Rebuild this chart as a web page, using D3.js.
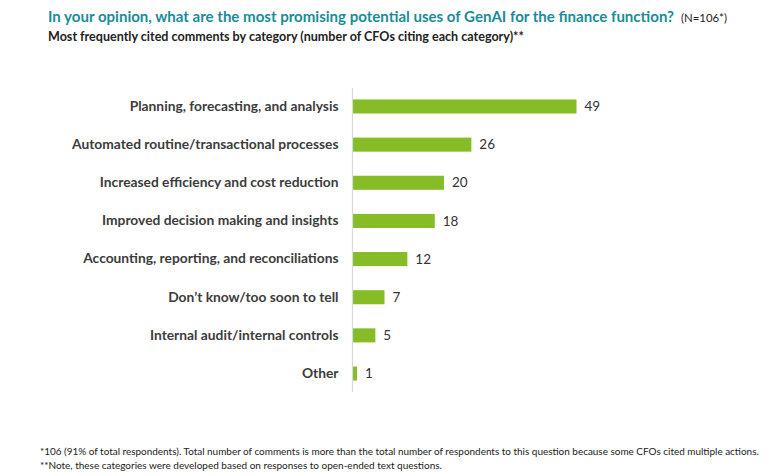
<!DOCTYPE html>
<html>
<head>
<meta charset="utf-8">
<script src="https://cdn.jsdelivr.net/npm/d3@7"></script>
<style>
  html, body { margin: 0; padding: 0; background: #ffffff; }
  svg { display: block; }
  text { font-family: Lato, "Open Sans", sans-serif; }
</style>
</head>
<body>
<svg id="chart" width="781" height="476"></svg>
<script>
const categories = [
  "Planning, forecasting, and analysis",
  "Automated routine/transactional processes",
  "Increased efficiency and cost reduction",
  "Improved decision making and insights",
  "Accounting, reporting, and reconciliations",
  "Don\u2019t know/too soon to tell",
  "Internal audit/internal controls",
  "Other"
];
const values = [49, 26, 20, 18, 12, 7, 5, 1];
const titleText = "In your opinion, what are the most promising potential uses of GenAI for the finance function?";
const titleNote = "(N=106*)";
const subtitleText = "Most frequently cited comments by category (number of CFOs citing each category)**";
const footnotes = [
  "*106 (91% of total respondents). Total number of comments is more than the total number of respondents to this question because some CFOs cited multiple actions.",
  "**Note, these categories were developed based on responses to open-ended text questions."
];

const svg = d3.select("#chart");
const axisX = 352.5;
const x = d3.scaleLinear().domain([0, 49]).range([axisX, 576.5]);
const y = d3.scaleBand().domain(categories).range([88, 392]).paddingInner(0.632).paddingOuter(0.3);

// fit a text to a target width by scaling its font size (no glyph stretching)
function fitWidth(sel, target) {
  sel.each(function () {
    const fs = parseFloat(this.getAttribute("font-size"));
    const w = this.getComputedTextLength();
    if (w > 0) this.setAttribute("font-size", (fs * target / w).toFixed(2));
  });
}

// title
svg.append("text").attr("x", 48).attr("y", 22)
  .attr("fill", "#1a8c98").attr("font-weight", 700).attr("font-size", 16)
  .text(titleText).call(fitWidth, 626);
svg.append("text").attr("x", 681).attr("y", 22)
  .attr("fill", "#222").attr("font-size", 11).attr("font-weight", 400)
  .text(titleNote).call(fitWidth, 46);

svg.append("text").attr("x", 48).attr("y", 41)
  .attr("fill", "#222").attr("font-weight", 700).attr("font-size", 12)
  .text(subtitleText).call(fitWidth, 476);

// bars
svg.append("g").selectAll("rect").data(categories).join("rect")
  .attr("x", x(0) + 0.5)
  .attr("y", d => y(d))
  .attr("width", (d, i) => x(values[i]) - x(0) - 0.5)
  .attr("height", y.bandwidth())
  .attr("fill", "#86bc25");

// axis
const yAxis = d3.axisLeft(y).tickSize(0).tickPadding(14);
const ga = svg.append("g").attr("transform", `translate(${axisX},0)`).call(yAxis);
ga.select(".domain").remove();
ga.append("line").attr("x1", 0).attr("x2", 0).attr("y1", 88).attr("y2", 392)
  .attr("stroke", "#d9d9d9").attr("stroke-width", 1.2);
ga.selectAll(".tick text")
  .attr("font-family", "Lato, 'Open Sans', sans-serif")
  .attr("font-size", 13.8).attr("font-weight", 700).attr("fill", "#3c3c3c");

// value labels
svg.append("g").selectAll("text").data(categories).join("text")
  .attr("x", (d, i) => x(values[i]) + 8)
  .attr("y", d => y(d) + y.bandwidth() / 2)
  .attr("dy", "0.35em")
  .attr("font-size", 13.5).attr("fill", "#333")
  .text((d, i) => values[i]);

// footnotes
svg.append("g").selectAll("text").data(footnotes).join("text")
  .attr("x", 40).attr("y", (d, i) => 455 + i * 14)
  .attr("font-size", 10.5).attr("fill", "#222")
  .text(d => d)
  .each(function (d, i) { d3.select(this).call(fitWidth, i === 0 ? 720 : 402); });
</script>
</body>
</html>
